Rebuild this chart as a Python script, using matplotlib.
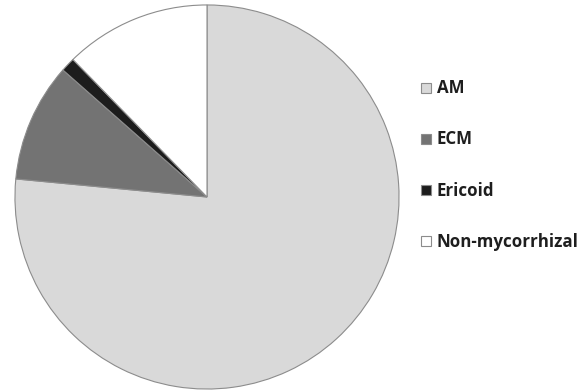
import matplotlib.pyplot as plt
from matplotlib.lines import Line2D

labels = ['AM', 'ECM', 'Ericoid', 'Non-mycorrhizal']
shares = [76.5, 10.0, 1.2, 12.3]
colors = ['#d9d9d9', '#737373', '#1c1c1c', '#ffffff']

W, H = 581, 390
fig = plt.figure(figsize=(W / 100, H / 100), dpi=100)

# pie: centre about (207,197) px, radius ~193 px
cx, cy, r = 207, 197, 193
ax = fig.add_axes([(cx - r) / W, (H - cy - r) / H, 2 * r / W, 2 * r / H])
ax.pie(shares, colors=colors, startangle=90, counterclock=False,
       wedgeprops=dict(edgecolor='#8c8c8c', linewidth=0.8))
ax.set_xlim(-1.005, 1.005)
ax.set_ylim(-1.005, 1.005)
ax.set_aspect('equal')
ax.axis('off')

handles = [Line2D([], [], marker='s', linestyle='none', markersize=7,
                  markerfacecolor=c, markeredgecolor='#8c8c8c', markeredgewidth=0.8)
           for c in colors]
fig.legend(handles, labels, loc='center left',
           bbox_to_anchor=(420 / W, 1 - 165 / H), frameon=False,
           prop=dict(family='Open Sans', weight='bold', size=12.2),
           labelspacing=1.95, handlelength=0.75, handletextpad=0.25,
           borderpad=0, borderaxespad=0)
for t in fig.legends[0].get_texts():
    t.set_color('#1e1e1e')

fig.savefig('out.png', dpi=100)
